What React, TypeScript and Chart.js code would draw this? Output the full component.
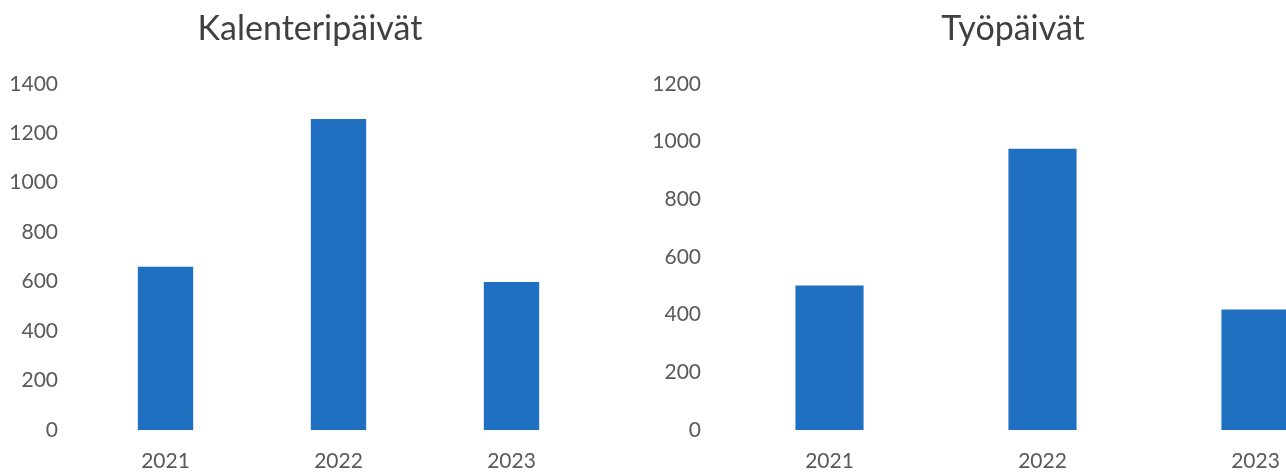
import React, { useEffect, useRef } from "react";
import { Chart, registerables } from "chart.js";

Chart.register(...registerables);

const years = ["2021", "2022", "2023"];
const calendarDays = [660, 1258, 599];
const workDays = [501, 975, 418];
const calendarTitle = "Kalenteripäivät";
const workTitle = "Työpäivät";
const calendarMax = 1400;
const workMax = 1200;
const tickStep = 200;

const FONT = "Lato, 'Open Sans', sans-serif";
const BAR = "#1f70c1";
const TICK = "#595959";

function BarPanel(props: {
  title: string;
  values: number[];
  max: number;
  width: number;
  yAxisWidth: number;
  yPad: number;
  rightSpace: number;
}) {
  const ref = useRef<HTMLCanvasElement | null>(null);
  useEffect(() => {
    if (!ref.current) return;
    const chart = new Chart(ref.current, {
      type: "bar",
      data: {
        labels: years,
        datasets: [
          {
            data: props.values,
            backgroundColor: BAR,
            borderWidth: 0,
            categoryPercentage: 1,
            barPercentage: 0.32,
            yAxisID: "y",
          },
        ],
      },
      options: {
        responsive: false,
        animation: false,
        layout: { padding: 0 },
        plugins: {
          legend: { display: false },
          tooltip: { enabled: false },
          title: {
            display: true,
            text: props.title,
            color: "#404040",
            font: { family: FONT, size: 34, weight: "normal" },
            padding: { top: 9, bottom: 34 },
          },
        },
        scales: {
          x: {
            grid: { display: false, drawTicks: false },
            border: { display: false },
            ticks: {
              color: TICK,
              font: { family: FONT, size: 21 },
              padding: 19,
              maxRotation: 0,
            },
            afterFit: (s: any) => {
              s.height = 43;
            },
          },
          y: {
            position: "left",
            min: 0,
            max: props.max,
            grid: { display: false, drawTicks: false },
            border: { display: false },
            ticks: {
              stepSize: tickStep,
              color: TICK,
              font: { family: FONT, size: 21 },
              padding: props.yPad,
              callback: (v: any) => String(v),
            },
            afterFit: (s: any) => {
              s.width = props.yAxisWidth;
            },
          },
          spacer: {
            type: "linear",
            position: "right",
            grid: { display: false, drawTicks: false },
            border: { display: false },
            ticks: { display: false },
            afterFit: (s: any) => {
              s.width = props.rightSpace;
            },
          },
        },
      },
    });
    return () => chart.destroy();
  }, []);
  return <canvas ref={ref} width={props.width} height={473} style={{ display: "block" }} />;
}

export default function App() {
  useEffect(() => {
    document.body.style.margin = "0";
  }, []);
  return (
    <div
      style={{
        position: "fixed",
        left: 0,
        top: 0,
        width: 1286,
        height: 473,
        overflow: "hidden",
        background: "#ffffff",
      }}
    >
      <div style={{ position: "absolute", left: 0, top: 0 }}>
        <BarPanel
          title={calendarTitle}
          values={calendarDays}
          max={calendarMax}
          width={620}
          yAxisWidth={79}
          yPad={21}
          rightSpace={22}
        />
      </div>
      <div style={{ position: "absolute", left: 640, top: 0 }}>
        <BarPanel
          title={workTitle}
          values={workDays}
          max={workMax}
          width={746}
          yAxisWidth={83}
          yPad={22}
          rightSpace={24}
        />
      </div>
    </div>
  );
}
